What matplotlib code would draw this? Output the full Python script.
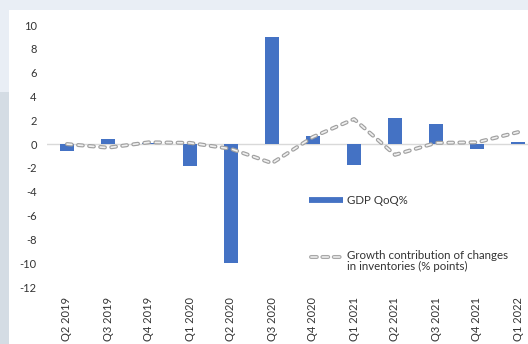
import matplotlib
matplotlib.use("Agg")
import matplotlib.pyplot as plt
from matplotlib.patches import Rectangle
from matplotlib.lines import Line2D
import numpy as np

plt.rcParams['font.family'] = ['Lato', 'DejaVu Sans']
plt.rcParams['lines.scale_dashes'] = False

quarters = ["Q2 2019", "Q3 2019", "Q4 2019", "Q1 2020", "Q2 2020", "Q3 2020",
            "Q4 2020", "Q1 2021", "Q2 2021", "Q3 2021", "Q4 2021", "Q1 2022"]
gdp_qoq = [-0.55, 0.4, 0.1, -1.8, -10.0, 9.0, 0.7, -1.75, 2.2, 1.7, -0.4, 0.2]
inventories = [0.0, -0.3, 0.15, 0.1, -0.4, -1.6, 0.6, 2.1, -0.9, 0.1, 0.15, 1.0]
yticks = [10, 8, 6, 4, 2, 0, -2, -4, -6, -8, -10, -12]

W, H = 528, 344
fig = plt.figure(figsize=(W / 100, H / 100), dpi=100)
fig.patch.set_facecolor("#e9eef5")

# page backdrop: darker strip on the left, white panel for the chart
fig.add_artist(Rectangle((0, 0), 9 / W, (H - 92) / H, transform=fig.transFigure,
                         facecolor="#d4dce4", edgecolor="none", zorder=0))
fig.add_artist(Rectangle((9 / W, 0), 1, (H - 10) / H, transform=fig.transFigure,
                         facecolor="white", edgecolor="none", zorder=0))

ax = fig.add_axes([46.5 / W, (H - 287) / H, 492 / W, 262 / H])
ax.set_facecolor("none")
x = np.arange(len(quarters))

ax.axhline(0, color="#d9d9d9", lw=1.0, zorder=1)
ax.bar(x, gdp_qoq, width=0.33, color="#4472c4", zorder=2)

# hollow capsule dashes: grey outline with a pale core
dash_style = (0, (3.4, 4.6))
ax.plot(x, inventories, color="#a0a0a0", lw=2.9, linestyle=dash_style,
        dash_capstyle="round", zorder=3)
ax.plot(x, inventories, color="#f0f0f0", lw=1.2, linestyle=dash_style,
        dash_capstyle="round", zorder=4)

ax.set_xlim(-0.5, len(quarters) - 0.5)
ax.set_ylim(-12, 10)
ax.set_yticks(yticks)
ax.set_yticklabels([str(v) for v in yticks])
ax.set_xticks(x)
ax.set_xticklabels(quarters, rotation=90, va="top", ha="center")
ax.tick_params(axis="both", length=0, labelsize=8, colors="#333333")
ax.tick_params(axis="y", pad=7)
ax.tick_params(axis="x", pad=7)
for s in ax.spines.values():
    s.set_visible(False)

# legend entries
fig.add_artist(Line2D([309 / W, 343 / W], [(H - 200) / H] * 2, transform=fig.transFigure,
                      color="#4472c4", lw=4.2, solid_capstyle="butt"))
fig.text(347 / W, (H - 200) / H, "GDP QoQ%", fontsize=8.3, color="#333333",
         va="center", ha="left")
lx = [311 / W, 342 / W]
ly = [(H - 257) / H] * 2
legend_dash = (0, (4.2, 4.0))
fig.add_artist(Line2D(lx, ly, transform=fig.transFigure, color="#a8a8a8", lw=2.9,
                      linestyle=legend_dash, dash_capstyle="round"))
fig.add_artist(Line2D(lx, ly, transform=fig.transFigure, color="#ececec", lw=1.2,
                      linestyle=legend_dash, dash_capstyle="round"))
fig.text(347 / W, (H - 261) / H, "Growth contribution of changes\nin inventories (% points)",
         fontsize=8.3, color="#333333", va="center", ha="left", linespacing=1.0)

fig.savefig("out.png", dpi=100, facecolor=fig.get_facecolor())
